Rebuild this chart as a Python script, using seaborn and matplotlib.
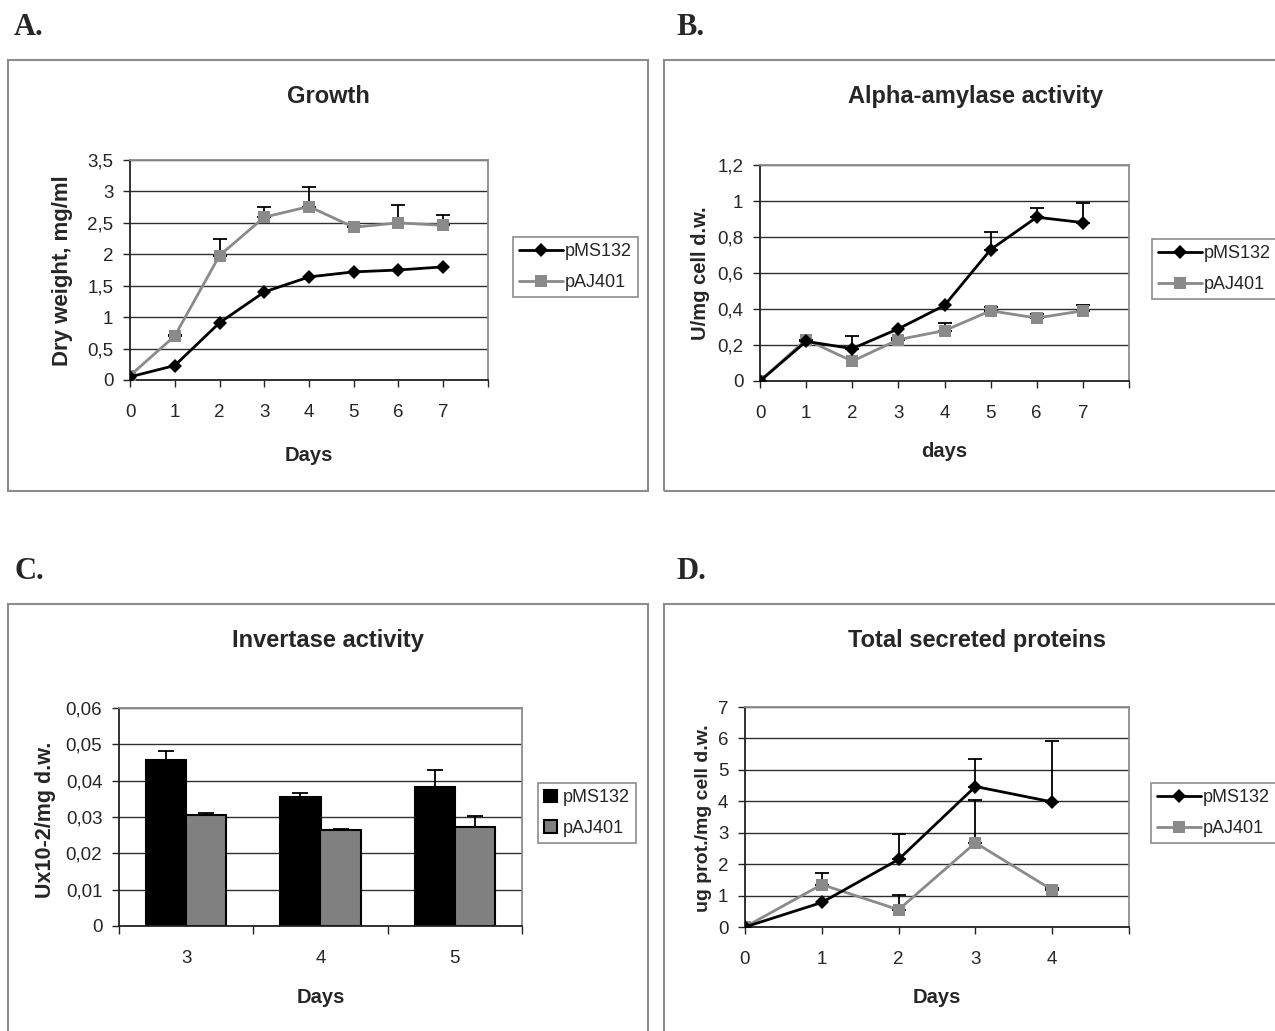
import numpy as np
import pandas as pd
import seaborn as sns
import matplotlib.pyplot as plt
from matplotlib.patches import Rectangle
from matplotlib.ticker import FuncFormatter

# data
DAYS_AB = [0, 1, 2, 3, 4, 5, 6, 7]
A_PMS = [0.05, 0.23, 0.91, 1.40, 1.64, 1.72, 1.75, 1.80]
A_PMS_ERR = [0, 0, 0, 0, 0, 0, 0, 0]
A_PAJ = [0.07, 0.70, 1.98, 2.59, 2.76, 2.43, 2.50, 2.46]
A_PAJ_ERR = [0, 0.02, 0.26, 0.16, 0.31, 0.02, 0.28, 0.17]

B_PMS = [0.0, 0.22, 0.18, 0.29, 0.42, 0.73, 0.91, 0.88]
B_PMS_ERR = [0, 0.01, 0.07, 0, 0, 0.10, 0.05, 0.11]
B_PAJ = [0.0, 0.23, 0.11, 0.23, 0.28, 0.39, 0.35, 0.39]
B_PAJ_ERR = [0, 0, 0, 0.01, 0.04, 0.02, 0.02, 0.03]

C_DAYS = ['3', '4', '5']
C_PMS = [0.0456, 0.0355, 0.0383]
C_PMS_ERR = [0.0027, 0.0012, 0.0045]
C_PAJ = [0.0306, 0.0263, 0.0273]
C_PAJ_ERR = [0.0004, 0.0004, 0.0031]

D_DAYS = [0, 1, 2, 3, 4]
D_PMS = [0.0, 0.78, 2.15, 4.47, 3.98]
D_PMS_ERR = [0, 0, 0.82, 0.87, 1.95]
D_PAJ = [0.0, 1.35, 0.55, 2.68, 1.18]
D_PAJ_ERR = [0, 0.37, 0.46, 1.37, 0.06]

STRAINS = ['pMS132', 'pAJ401']
BLACK = '#000000'
GRAY = '#8a8a8a'
BOX = '#8c8c8c'

W, H = 1275, 1031

sns.set_style('white')
plt.rcParams['font.family'] = ['Liberation Sans', 'DejaVu Sans']

fig = plt.figure(figsize=(W / 100, H / 100), dpi=100)


def fx(x):
    return x / W


def fy(y):
    return 1 - y / H


def add_box(x0, y0, x1, y1):
    rect = Rectangle((fx(x0), fy(y1)), fx(x1) - fx(x0), fy(y0) - fy(y1),
                     transform=fig.transFigure, fill=False, edgecolor=BOX, lw=1.5)
    fig.add_artist(rect)


def add_ax(l, t, r, b):
    return fig.add_axes([fx(l), fy(b), fx(r) - fx(l), fy(t) - fy(b)])


def comma(v, _):
    return f"{v:g}".replace('.', ',')


def style_ax(ax, ymax, ystep):
    ax.set_ylim(0, ymax)
    ax.set_yticks(np.arange(0, ymax + ystep / 2, ystep))
    ax.yaxis.set_major_formatter(FuncFormatter(comma))
    ax.yaxis.grid(True, color='#2e2e2e', lw=1)
    ax.xaxis.grid(False)
    ax.set_axisbelow(True)
    for s in ['top', 'right']:
        ax.spines[s].set_color(BOX)
        ax.spines[s].set_linewidth(1.3)
    for s in ['left', 'bottom']:
        ax.spines[s].set_color('#222222')
        ax.spines[s].set_linewidth(1.3)
    ax.tick_params(axis='both', which='both', direction='out', length=5, width=1,
                   color='#222222', labelsize=13.5, left=True, bottom=True)
    ax.tick_params(axis='y', pad=7)
    ax.tick_params(axis='x', pad=12)


def up_errors(ax, x, y, err, **kw):
    x = np.asarray(x, dtype=float)
    y = np.asarray(y, dtype=float)
    err = np.asarray(err, dtype=float)
    m = err > 0
    if m.any():
        ax.errorbar(x[m], y[m], yerr=[np.zeros(m.sum()), err[m]], fmt='none',
                    ecolor='black', elinewidth=1.3, capthick=1.3, zorder=2.2, **kw)


def line_panel(ax, days, pms, pms_err, paj, paj_err, nmax):
    up_errors(ax, days, pms, pms_err, capsize=5)
    up_errors(ax, days, paj, paj_err, capsize=5)
    sns.lineplot(x=days, y=paj, color=GRAY, marker='s', markersize=8, mec=GRAY,
                 mew=0, lw=2, label='pAJ401', ax=ax, zorder=3)
    sns.lineplot(x=days, y=pms, color=BLACK, marker='D', markersize=7, mec=BLACK,
                 mew=0, lw=2, label='pMS132', ax=ax, zorder=3)
    ax.set_xlim(0, nmax)
    ax.set_xticks(range(nmax + 1))
    ax.set_xticklabels([str(d) for d in days] + [''] * (nmax + 1 - len(days)))
    ax.set(xlabel='', ylabel='')


def add_legend(ax, x, y, square=False):
    handles, labels = ax.get_legend_handles_labels()
    order = [labels.index(s) for s in STRAINS]
    kw = dict(handlelength=0.7, handleheight=0.7, handletextpad=0.3) if square else \
        dict(handlelength=2.4, handletextpad=0.1)
    leg = ax.legend([handles[i] for i in order], [labels[i] for i in order],
                    loc='upper left', bbox_to_anchor=(fx(x), fy(y)),
                    bbox_transform=fig.transFigure, borderaxespad=0, fontsize=13,
                    frameon=True, fancybox=False, framealpha=1, borderpad=0.35,
                    labelspacing=0.75, **kw)
    leg.get_frame().set_edgecolor(BOX)
    leg.get_frame().set_linewidth(1.2)


# outer chart boxes
add_box(8, 60, 648, 491)
add_box(664, 60, 1300, 491)
add_box(8, 604, 648, 1060)
add_box(664, 604, 1300, 1060)

# panel letters
for letter, x, y in [('A.', 14, 35), ('B.', 676, 35), ('C.', 14, 579), ('D.', 676, 579)]:
    fig.text(fx(x), fy(y), letter, family=['Liberation Serif', 'DejaVu Serif'],
             fontweight='bold', fontsize=22, ha='left', va='baseline')

# A. Growth
axA = add_ax(130, 160, 488, 380)
style_ax(axA, 3.5, 0.5)
line_panel(axA, DAYS_AB, A_PMS, A_PMS_ERR, A_PAJ, A_PAJ_ERR, 8)
add_legend(axA, 513, 237)
fig.text(fx(328), fy(103), 'Growth', fontsize=17, fontweight='bold', ha='center', va='baseline')
fig.text(fx(309), fy(461), 'Days', fontsize=14.5, fontweight='bold', ha='center', va='baseline')
fig.text(fx(63), fy(271), 'Dry weight, mg/ml', fontsize=16, fontweight='bold',
         rotation=90, ha='center', va='center')

# B. Alpha-amylase activity
axB = add_ax(760, 165, 1129, 381)
style_ax(axB, 1.2, 0.2)
line_panel(axB, DAYS_AB, B_PMS, B_PMS_ERR, B_PAJ, B_PAJ_ERR, 8)
add_legend(axB, 1152, 239)
fig.text(fx(976), fy(103), 'Alpha-amylase activity', fontsize=17, fontweight='bold',
         ha='center', va='baseline')
fig.text(fx(944), fy(457), 'days', fontsize=14.5, fontweight='bold', ha='center', va='baseline')
fig.text(fx(701), fy(273), 'U/mg cell d.w.', fontsize=14.5, fontweight='bold',
         rotation=90, ha='center', va='center')

# C. Invertase activity
axC = add_ax(119, 708, 522, 926)
df_c = pd.DataFrame({
    'day': C_DAYS * 2,
    'strain': ['pMS132'] * len(C_DAYS) + ['pAJ401'] * len(C_DAYS),
    'value': C_PMS + C_PAJ,
})
sns.barplot(data=df_c, x='day', y='value', hue='strain', hue_order=STRAINS,
            palette={'pMS132': BLACK, 'pAJ401': '#808080'}, edgecolor='black',
            linewidth=1.5, width=0.6, errorbar=None, ax=axC)
style_ax(axC, 0.06, 0.01)
xs = np.arange(len(C_DAYS))
up_errors(axC, xs - 0.15, C_PMS, C_PMS_ERR, capsize=6)
up_errors(axC, xs + 0.15, C_PAJ, C_PAJ_ERR, capsize=6)
axC.set_xlim(-0.5, len(C_DAYS) - 0.5)
axC.set_xticks(np.arange(-0.5, len(C_DAYS)), minor=True)
axC.tick_params(axis='x', which='major', length=0, pad=17)
axC.tick_params(axis='x', which='minor', length=6)
axC.set(xlabel='', ylabel='')
add_legend(axC, 538, 783, square=True)
fig.text(fx(328), fy(647), 'Invertase activity', fontsize=17, fontweight='bold',
         ha='center', va='baseline')
fig.text(fx(321), fy(1003), 'Days', fontsize=14.5, fontweight='bold', ha='center', va='baseline')
fig.text(fx(46), fy(820), 'Ux10-2/mg d.w.', fontsize=15.5, fontweight='bold',
         rotation=90, ha='center', va='center')

# D. Total secreted proteins
axD = add_ax(745, 707, 1129, 927)
style_ax(axD, 7, 1)
line_panel(axD, D_DAYS, D_PMS, D_PMS_ERR, D_PAJ, D_PAJ_ERR, 5)
add_legend(axD, 1151, 783)
fig.text(fx(977), fy(647), 'Total secreted proteins', fontsize=17, fontweight='bold',
         ha='center', va='baseline')
fig.text(fx(937), fy(1003), 'Days', fontsize=14.5, fontweight='bold', ha='center', va='baseline')
fig.text(fx(703), fy(818), 'ug prot./mg cell d.w.', fontsize=14, fontweight='bold',
         rotation=90, ha='center', va='center')

fig.savefig('out.png', dpi=100, facecolor='white')
